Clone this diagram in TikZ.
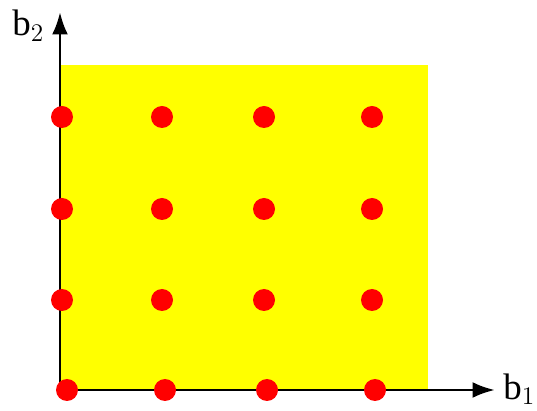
\documentclass[tikz,border=0pt]{standalone}
\usepackage{fontspec}
\setmainfont{Liberation Serif}
\usetikzlibrary{positioning,arrows.meta,calc}
\definecolor{pureyellow}{RGB}{255,255,0}
\tikzset{
region/.style={
fill=pureyellow,
draw=none
},
latpoint/.style={
circle,
fill=red,
inner sep=0pt,
minimum size=22\unitpx
},
axis/.style={
-{Latex[length=4.5mm,width=3.2mm]},
line width=1.7pt
},
axlabel/.style={
font=\fontsize{21}{24}\selectfont,
inner sep=0pt
}
}
\newcommand{\unitpx}{*0.02cm}
\begin{document}
\begin{tikzpicture}[x=0.02cm,y=-0.02cm]
\useasboundingbox (0,0) rectangle (537,411);
\fill[region] (60,65) rectangle (428,390);

\coordinate (o) at (60,390);
\coordinate (xend) at (495,390);
\coordinate (yend) at (60,12);
\draw[axis](o)--(xend);
\draw[axis](o)--(yend);

\node[axlabel,anchor=base west](lb1) at (503,399){b$_1$};
\node[axlabel,anchor=base west](lb2) at (12,36){b$_2$};

% upper rows
\foreach \r/\y in {1/117,2/209,3/300}
\foreach \c/\x in {1/62,2/162,3/264,4/372}
\node[latpoint](p\r\c) at (\x,\y){};
% bottom row
\foreach \c/\x in {1/67,2/165,3/267,4/375}
\node[latpoint](p4\c) at (\x,390){};
\end{tikzpicture}
\end{document}
